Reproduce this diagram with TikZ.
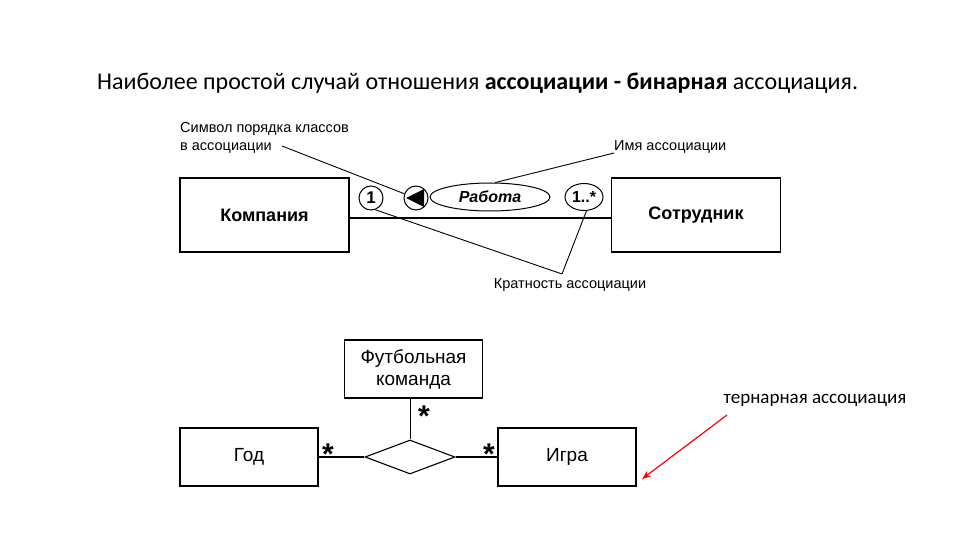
\documentclass[tikz,border=0pt]{standalone}
\usepackage{fontspec}
\setmainfont{Liberation Sans}
\newfontfamily\titlefont{Carlito}
\usetikzlibrary{shapes.geometric,arrows.meta}
\begin{document}
\begin{tikzpicture}[x=1pt,y=-1pt,
  cls/.style={draw,line width=1.3pt,minimum width=169pt,minimum height=74pt,font=\fontsize{18}{20}\selectfont\bfseries},
  cls2/.style={draw,line width=1.3pt,minimum width=138pt,minimum height=58pt,font=\fontsize{19}{22}\selectfont,align=center},
  lbl/.style={font=\fontsize{14.5}{18}\selectfont,align=left},
  lead/.style={draw,line width=0.9pt},
  mult/.style={font=\fontsize{30}{30}\selectfont\bfseries}]
\useasboundingbox (0,0) rectangle (960,540);
\node[font=\titlefont\fontsize{24}{26}\selectfont,anchor=west,inner sep=0pt] (title) at (97,83) {Наиболее простой случай отношения \textbf{ассоциации - бинарная} ассоциация.};
\node[cls] (comp) at (264.5,215) {Компания};
\node[cls] (emp) at (696,215) {Сотрудник};
\coordinate (l1) at (349,218); \coordinate (l2) at (612,218);
\draw[line width=1.3pt] (l1) -- (l2);
\node[draw,line width=1pt,circle,minimum size=24pt,inner sep=0pt,font=\fontsize{17}{17}\selectfont\bfseries] (one) at (371,198) {1};
\node[draw,line width=1pt,circle,minimum size=24pt,inner sep=0pt] (ord) at (416,198) {};
\fill (406,198) -- (424,189) -- (424,207) -- cycle;
\node[draw,line width=1pt,ellipse,minimum width=120pt,minimum height=28pt,inner sep=0pt,font=\fontsize{16}{16}\selectfont\bfseries\itshape] (name) at (490,197) {Работа};
\node[draw,line width=1pt,ellipse,minimum width=38pt,minimum height=27pt,inner sep=0pt,font=\fontsize{16}{16}\selectfont\bfseries] (many) at (584,197) {1..*};
\node[lbl,anchor=north west,inner sep=0pt] (sym) at (180,122) {Символ порядка классов\\в ассоциации};
\node[lbl,anchor=west,inner sep=0pt] (nm) at (614,147) {Имя ассоциации};
\node[lbl] (kr) at (570,285) {Кратность ассоциации};
\coordinate (s1) at (282,146); \coordinate (n1) at (614,153); \coordinate (k1) at (562,274);
\draw[lead] (s1) -- (ord.160);
\draw[lead] (n1) -- (name.70);
\draw[lead] (k1) -- (one.-70);
\draw[lead] (k1) -- (many.-80);
% ternary
\node[cls2] (team) at (413.5,369) {Футбольная\\команда};
\node[cls2] (year) at (249,457) {Год};
\node[cls2] (game) at (567,457) {Игра};
\node[draw,line width=1.1pt,diamond,aspect=2.6,minimum width=90pt,minimum height=34pt,inner sep=0pt] (dia) at (410,457) {};
\draw[line width=0.9pt] (team.south -| dia.north) -- (dia.north);
\draw[line width=1.3pt] (year.east) -- (dia.west);
\draw[line width=1.3pt] (dia.east) -- (game.west);
\node[mult] (s1m) at (424,416) {*};
\node[mult] (s2m) at (328,454) {*};
\node[mult] (s3m) at (489,454) {*};
\node[font=\titlefont\fontsize{19}{21}\selectfont] (tern) at (815,400) {тернарная ассоциация};
\coordinate (a1) at (727,415); \coordinate (a2) at (642,479);
\draw[red,line width=1.2pt,-{Stealth[length=9pt]}] (a1) -- (a2);
\end{tikzpicture}
\end{document}
